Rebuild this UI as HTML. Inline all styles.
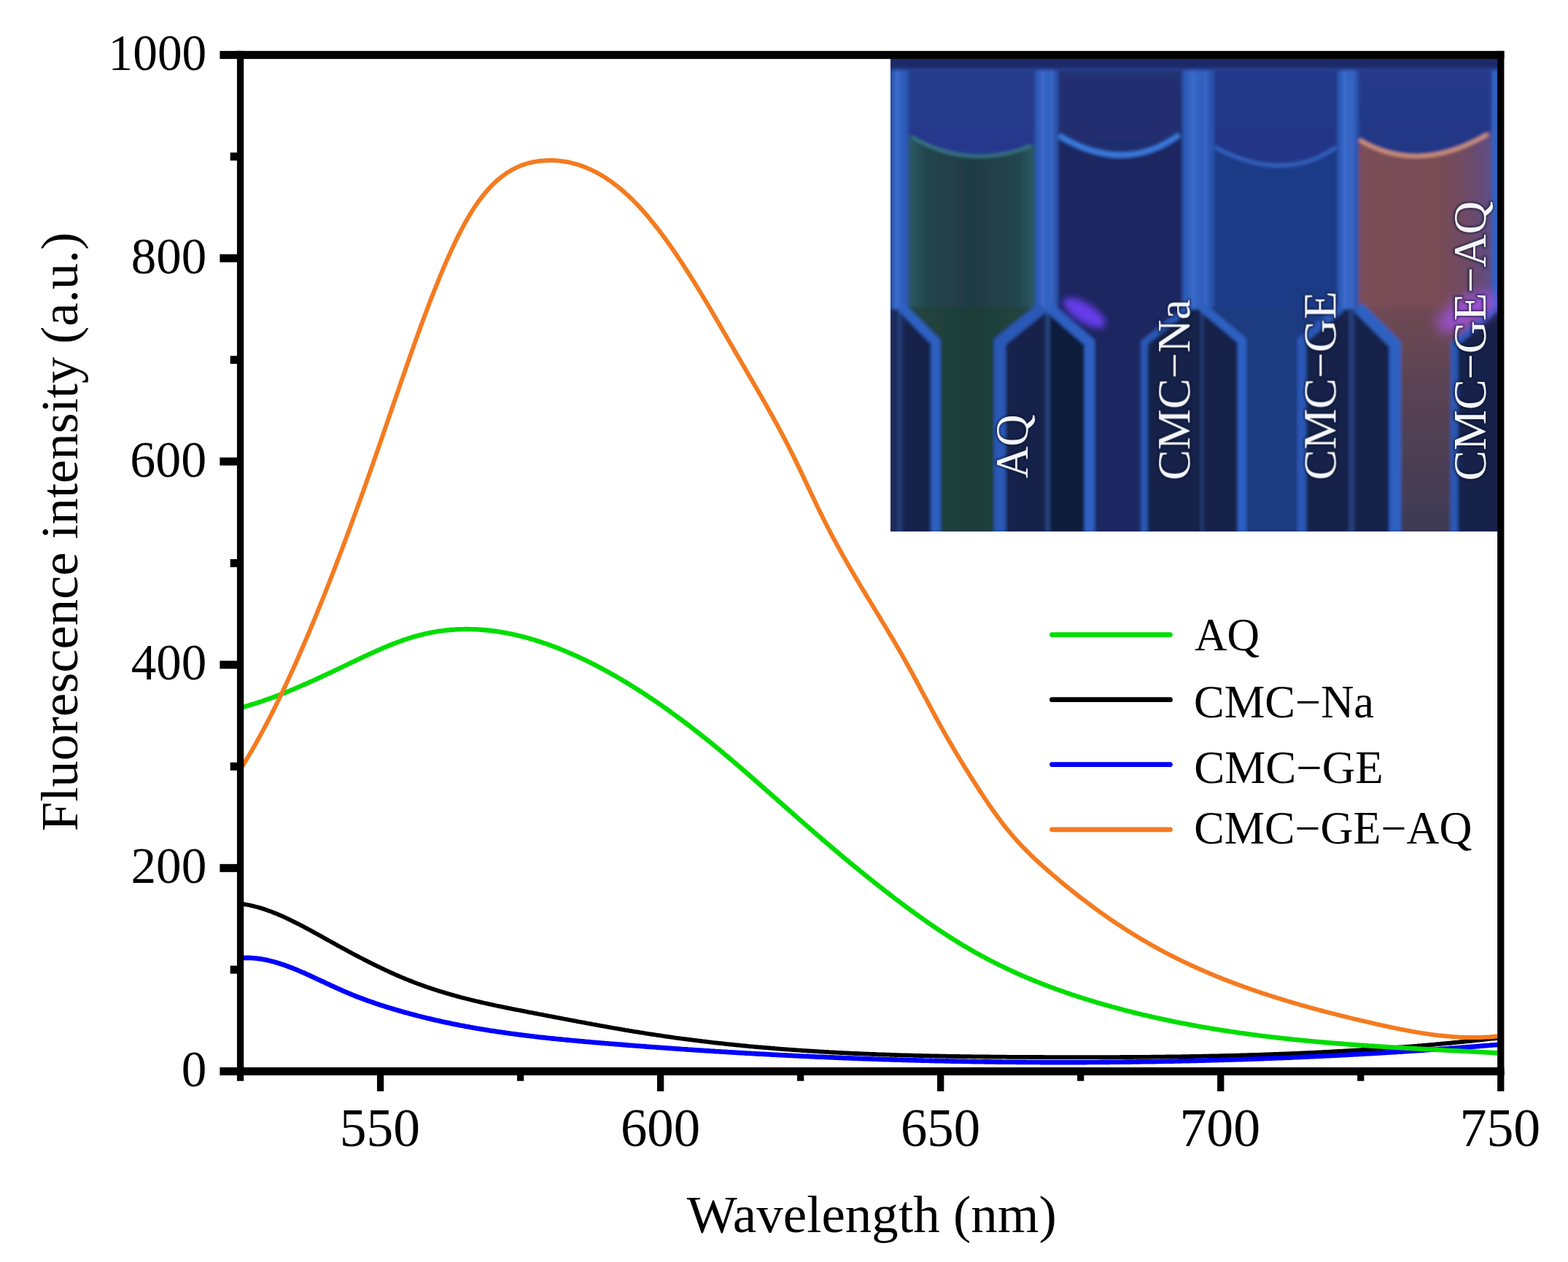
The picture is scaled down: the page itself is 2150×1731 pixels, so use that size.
<!DOCTYPE html><html><head><meta charset="utf-8"><title>Fluorescence spectra</title><style>html,body{margin:0;padding:0;background:#fff;overflow:hidden;}svg{display:block;}</style></head><body>
<svg xmlns="http://www.w3.org/2000/svg" width="2150" height="1731" viewBox="0 0 2150 1731">
<defs><clipPath id="insetclip"><rect x="1221" y="79.5" width="834" height="649.5"/></clipPath><clipPath id="plotclip"><rect x="329.6" y="75.35" width="1728.2000000000003" height="1394.15"/></clipPath></defs>
<rect width="2150" height="1731" fill="#fff"/>
<defs><filter id="blur2" x="-5%" y="-5%" width="110%" height="110%"><feGaussianBlur stdDeviation="2.2"/></filter><filter id="blur5" x="-30%" y="-30%" width="160%" height="160%"><feGaussianBlur stdDeviation="5"/></filter><filter id="blur9" x="-50%" y="-50%" width="200%" height="200%"><feGaussianBlur stdDeviation="9"/></filter><filter id="tshadow" x="-10%" y="-10%" width="120%" height="120%"><feGaussianBlur stdDeviation="1.6"/></filter><linearGradient id="c4liq" x1="0" y1="0" x2="1" y2="0"><stop offset="0" stop-color="#7a4e58"/><stop offset="0.6" stop-color="#784b55"/><stop offset="0.8" stop-color="#6e4c66"/><stop offset="1" stop-color="#5d4d86"/></linearGradient><linearGradient id="c4chan" x1="0" y1="0" x2="0" y2="1"><stop offset="0" stop-color="#704954"/><stop offset="0.35" stop-color="#5a4352"/><stop offset="1" stop-color="#3e3a55"/></linearGradient><linearGradient id="c1liq" x1="0" y1="0" x2="1" y2="0"><stop offset="0" stop-color="#2b5a66"/><stop offset="0.15" stop-color="#23464e"/><stop offset="0.5" stop-color="#1f3b43"/><stop offset="0.85" stop-color="#23464e"/><stop offset="1" stop-color="#2c5c68"/></linearGradient><linearGradient id="c1chan" x1="0" y1="0" x2="1" y2="0"><stop offset="0" stop-color="#22463f"/><stop offset="0.5" stop-color="#1e3d39"/><stop offset="1" stop-color="#22463f"/></linearGradient><linearGradient id="air1" x1="0" y1="0" x2="0" y2="1"><stop offset="0" stop-color="#273c8c"/><stop offset="0.6" stop-color="#23368a"/><stop offset="1" stop-color="#1c2d6a"/></linearGradient><linearGradient id="air2" x1="0" y1="0" x2="0" y2="1"><stop offset="0" stop-color="#213072"/><stop offset="0.7" stop-color="#1e2b6a"/><stop offset="1" stop-color="#1a2660"/></linearGradient><linearGradient id="air3" x1="0" y1="0" x2="0" y2="1"><stop offset="0" stop-color="#24388a"/><stop offset="0.55" stop-color="#213585"/><stop offset="0.85" stop-color="#1a2b6c"/><stop offset="1" stop-color="#1c2e72"/></linearGradient><linearGradient id="air4" x1="0" y1="0" x2="0" y2="1"><stop offset="0" stop-color="#25398a"/><stop offset="0.65" stop-color="#223583"/><stop offset="1" stop-color="#1b2b68"/></linearGradient><linearGradient id="wallL" x1="0" y1="0" x2="1" y2="0"><stop offset="0" stop-color="#2a55b0"/><stop offset="0.35" stop-color="#3667c8"/><stop offset="0.7" stop-color="#2f5ebd"/><stop offset="1" stop-color="#2850a8"/></linearGradient></defs>
<g clip-path="url(#insetclip)">
<rect x="1221" y="79.5" width="834" height="649.5" fill="#1d2b6a"/>
<g filter="url(#blur2)"><rect x="1244" y="94" width="178" height="335" fill="url(#air1)"/><path d="M1244,184 Q1330,236 1418,198 L1422,198 L1422,430 L1244,430 Z" fill="url(#c1liq)"/><path d="M1250,188 Q1330,234 1414,200" fill="none" stroke="#3d7f88" stroke-width="3.5"/><rect x="1450" y="94" width="174" height="335" fill="url(#air2)"/><path d="M1450,183 Q1541,244 1620,182 L1624,182 L1624,430 L1450,430 Z" fill="#1b2660"/><path d="M1452,186 Q1541,240 1617,185" fill="none" stroke="#3b7be0" stroke-width="7"/><rect x="1664" y="94" width="172" height="335" fill="url(#air3)"/><path d="M1664,200 Q1760,254 1836,198 L1836,430 L1664,430 Z" fill="#1f3a86"/><path d="M1666,202 Q1760,252 1832,202" fill="none" stroke="#3566c6" stroke-width="4.5"/><rect x="1862" y="94" width="186" height="335" fill="url(#air4)"/><path d="M1862,189 Q1945,244 2044,180 L2048,180 L2048,430 L1862,430 Z" fill="url(#c4liq)"/><path d="M1864,192 Q1945,240 2040,184" fill="none" stroke="#d9997c" stroke-width="4.5"/><rect x="1221" y="94" width="25" height="332" fill="url(#wallL)"/><rect x="1419" y="94" width="32" height="332" fill="url(#wallL)"/><rect x="1621" y="94" width="44" height="332" fill="url(#wallL)"/><rect x="1834" y="94" width="29" height="332" fill="url(#wallL)"/><rect x="2045" y="94" width="11" height="332" fill="url(#wallL)"/><rect x="1229" y="96" width="3" height="326" fill="#4a7ad6" opacity="0.55"/><rect x="1428" y="96" width="3" height="326" fill="#4a7ad6" opacity="0.55"/><rect x="1441" y="96" width="3" height="326" fill="#4a7ad6" opacity="0.55"/><rect x="1633" y="96" width="3" height="326" fill="#4a7ad6" opacity="0.55"/><rect x="1652" y="96" width="3" height="326" fill="#4a7ad6" opacity="0.55"/><rect x="1843" y="96" width="3" height="326" fill="#4a7ad6" opacity="0.55"/><rect x="1853" y="96" width="3" height="326" fill="#4a7ad6" opacity="0.55"/><rect x="1221" y="79.5" width="834" height="15" fill="#1d2b6b"/><rect x="1221" y="94" width="834" height="3" fill="#2b4396"/><rect x="1221" y="424" width="834" height="306" fill="#15204a"/><rect x="1436" y="424" width="52" height="306" fill="#111a3a"/><rect x="1221" y="424" width="20" height="306" fill="#1a2a5a"/><path d="M1236,421 L1283,469 L1283,730 L1371,730 L1371,469 L1430,421 Z" fill="url(#c1chan)"/><path d="M1236,421 L1283,469 L1283,730" fill="none" stroke="#2e60c2" stroke-width="13"/><path d="M1430,421 L1371,469 L1371,730" fill="none" stroke="#2a58b6" stroke-width="16"/><path d="M1438,421 L1494,470 L1494,730 L1569,730 L1569,470 L1630,421 Z" fill="#1b2760"/><path d="M1438,421 L1494,470 L1494,730" fill="none" stroke="#2e60c2" stroke-width="14"/><path d="M1630,421 L1569,470 L1569,730" fill="none" stroke="#2a58b6" stroke-width="9"/><path d="M1648,421 L1703,467 L1703,730 L1785,730 L1785,467 L1840,421 Z" fill="#1e3a80"/><path d="M1648,421 L1703,467 L1703,730" fill="none" stroke="#2e60c2" stroke-width="12"/><path d="M1840,421 L1785,467 L1785,730" fill="none" stroke="#2a58b6" stroke-width="12"/><path d="M1862,421 L1913,472 L1913,730 L1994,730 L1994,472 L2052,421 Z" fill="url(#c4chan)"/><path d="M1862,421 L1913,472 L1913,730" fill="none" stroke="#2e60c2" stroke-width="16"/><path d="M2052,421 L1994,472 L1994,730" fill="none" stroke="#2a58b6" stroke-width="10"/><rect x="1232" y="424" width="2.5" height="306" fill="#3a64bc" opacity="0.6"/><rect x="1434" y="424" width="2.5" height="306" fill="#3a64bc" opacity="0.6"/><rect x="1437" y="424" width="2.5" height="306" fill="#3a64bc" opacity="0.6"/><rect x="1647" y="424" width="2.5" height="306" fill="#3a64bc" opacity="0.6"/><rect x="1850" y="424" width="2.5" height="306" fill="#3a64bc" opacity="0.6"/><rect x="1854" y="424" width="2.5" height="306" fill="#3a64bc" opacity="0.6"/></g>
<ellipse cx="1487" cy="429" rx="33" ry="13" transform="rotate(32 1487 429)" fill="#6a3df2" opacity="0.95" filter="url(#blur5)"/>
<ellipse cx="2012" cy="428" rx="46" ry="19" transform="rotate(-28 2012 428)" fill="#a452e6" opacity="0.85" filter="url(#blur9)"/>
<g font-family="'Liberation Serif','Times New Roman',serif" fill="#0d1330" stroke="#0d1330" stroke-width="3" opacity="0.7" filter="url(#tshadow)">
<text transform="translate(1409.10,656.01) rotate(-90) scale(0.9690,1)" font-size="62.5">AQ</text>
<text transform="translate(1631.20,658.71) rotate(-90) scale(1.0047,1)" font-size="62.5">CMC&#8722;Na</text>
<text transform="translate(1831.40,658.52) rotate(-90) scale(1.0061,1)" font-size="62.5">CMC&#8722;GE</text>
<text transform="translate(2036.60,659.50) rotate(-90) scale(1.0014,1)" font-size="62.5">CMC&#8722;GE&#8722;AQ</text>
</g>
<g font-family="'Liberation Serif','Times New Roman',serif" fill="#f4f6fb">
<text transform="translate(1409.10,656.01) rotate(-90) scale(0.9690,1)" font-size="62.5">AQ</text>
<text transform="translate(1631.20,658.71) rotate(-90) scale(1.0047,1)" font-size="62.5">CMC&#8722;Na</text>
<text transform="translate(1831.40,658.52) rotate(-90) scale(1.0061,1)" font-size="62.5">CMC&#8722;GE</text>
<text transform="translate(2036.60,659.50) rotate(-90) scale(1.0014,1)" font-size="62.5">CMC&#8722;GE&#8722;AQ</text>
</g>
</g>
<g fill="none" stroke-linejoin="round" stroke-linecap="round" clip-path="url(#plotclip)">
<path d="M331.0,1239.7L333.0,1240.0L335.0,1240.3L337.0,1240.6L339.0,1241.0L341.0,1241.3L343.0,1241.8L345.0,1242.2L347.0,1242.7L349.0,1243.2L351.0,1243.7L353.0,1244.2L355.0,1244.8L357.0,1245.4L359.0,1246.0L361.0,1246.6L363.0,1247.3L365.0,1248.0L367.0,1248.7L369.0,1249.4L371.0,1250.1L373.0,1250.9L375.0,1251.7L377.0,1252.5L379.0,1253.3L381.0,1254.1L383.0,1255.0L385.0,1255.8L387.0,1256.7L389.0,1257.6L391.0,1258.5L393.0,1259.5L395.0,1260.4L397.0,1261.4L399.0,1262.3L401.0,1263.3L403.0,1264.3L405.0,1265.3L407.0,1266.3L409.0,1267.3L411.0,1268.4L413.0,1269.4L415.0,1270.4L417.0,1271.5L419.0,1272.6L421.0,1273.6L423.0,1274.7L425.0,1275.8L427.0,1276.9L429.0,1278.0L431.0,1279.1L433.0,1280.2L435.0,1281.3L437.0,1282.4L439.0,1283.5L441.0,1284.6L443.0,1285.7L445.0,1286.9L447.0,1288.0L449.0,1289.1L451.0,1290.2L453.0,1291.3L455.0,1292.4L457.0,1293.5L459.0,1294.6L461.0,1295.8L463.0,1296.9L465.0,1298.0L467.0,1299.0L469.0,1300.1L471.0,1301.2L473.0,1302.3L475.0,1303.4L477.0,1304.5L479.0,1305.6L481.0,1306.6L483.0,1307.7L485.0,1308.8L487.0,1309.8L489.0,1310.9L491.0,1311.9L493.0,1313.0L495.0,1314.0L497.0,1315.0L499.0,1316.1L501.0,1317.1L503.0,1318.1L505.0,1319.1L507.0,1320.1L509.0,1321.1L511.0,1322.1L513.0,1323.1L515.0,1324.1L517.0,1325.1L519.0,1326.0L521.0,1327.0L523.0,1328.0L525.0,1328.9L527.0,1329.9L529.0,1330.8L531.0,1331.7L533.0,1332.7L535.0,1333.6L537.0,1334.5L539.0,1335.4L541.0,1336.3L543.0,1337.2L545.0,1338.0L547.0,1338.9L549.0,1339.8L551.0,1340.6L553.0,1341.4L555.0,1342.3L557.0,1343.1L559.0,1343.9L561.0,1344.7L563.0,1345.5L565.0,1346.3L567.0,1347.1L569.0,1347.9L571.0,1348.6L573.0,1349.4L575.0,1350.1L577.0,1350.8L579.0,1351.6L581.0,1352.3L583.0,1353.0L585.0,1353.7L587.0,1354.4L589.0,1355.0L591.0,1355.7L593.0,1356.4L595.0,1357.0L597.0,1357.7L599.0,1358.3L601.0,1359.0L603.0,1359.6L605.0,1360.2L607.0,1360.8L609.0,1361.4L611.0,1362.0L613.0,1362.6L615.0,1363.2L617.0,1363.8L619.0,1364.4L621.0,1364.9L623.0,1365.5L625.0,1366.0L627.0,1366.6L629.0,1367.1L631.0,1367.7L633.0,1368.2L635.0,1368.7L637.0,1369.2L639.0,1369.7L641.0,1370.2L643.0,1370.7L645.0,1371.2L647.0,1371.7L649.0,1372.2L651.0,1372.7L653.0,1373.2L655.0,1373.7L657.0,1374.1L659.0,1374.6L661.0,1375.1L663.0,1375.5L665.0,1376.0L667.0,1376.4L669.0,1376.9L671.0,1377.3L673.0,1377.7L675.0,1378.2L677.0,1378.6L679.0,1379.0L681.0,1379.5L683.0,1379.9L685.0,1380.3L687.0,1380.7L689.0,1381.1L691.0,1381.5L693.0,1381.9L695.0,1382.4L697.0,1382.8L699.0,1383.2L701.0,1383.6L703.0,1384.0L705.0,1384.4L707.0,1384.8L709.0,1385.2L711.0,1385.5L713.0,1385.9L715.0,1386.3L717.0,1386.7L719.0,1387.1L721.0,1387.5L723.0,1387.9L725.0,1388.3L727.0,1388.6L729.0,1389.0L731.0,1389.4L733.0,1389.8L735.0,1390.2L737.0,1390.6L739.0,1391.0L741.0,1391.3L743.0,1391.7L745.0,1392.1L747.0,1392.5L749.0,1392.9L751.0,1393.3L753.0,1393.7L755.0,1394.0L757.0,1394.4L759.0,1394.8L761.0,1395.2L763.0,1395.6L765.0,1395.9L767.0,1396.3L769.0,1396.7L771.0,1397.1L773.0,1397.5L775.0,1397.9L777.0,1398.2L779.0,1398.6L781.0,1399.0L783.0,1399.4L785.0,1399.7L787.0,1400.1L789.0,1400.5L791.0,1400.9L793.0,1401.3L795.0,1401.6L797.0,1402.0L799.0,1402.4L801.0,1402.7L803.0,1403.1L805.0,1403.5L807.0,1403.9L809.0,1404.2L811.0,1404.6L813.0,1405.0L815.0,1405.3L817.0,1405.7L819.0,1406.1L821.0,1406.4L823.0,1406.8L825.0,1407.1L827.0,1407.5L829.0,1407.9L831.0,1408.2L833.0,1408.6L835.0,1408.9L837.0,1409.3L839.0,1409.6L841.0,1410.0L843.0,1410.3L845.0,1410.7L847.0,1411.0L849.0,1411.4L851.0,1411.7L853.0,1412.1L855.0,1412.4L857.0,1412.8L859.0,1413.1L861.0,1413.4L863.0,1413.8L865.0,1414.1L867.0,1414.4L869.0,1414.8L871.0,1415.1L873.0,1415.4L875.0,1415.7L877.0,1416.1L879.0,1416.4L881.0,1416.7L883.0,1417.0L885.0,1417.4L887.0,1417.7L889.0,1418.0L891.0,1418.3L893.0,1418.6L895.0,1418.9L897.0,1419.2L899.0,1419.5L901.0,1419.8L903.0,1420.1L905.0,1420.4L907.0,1420.7L909.0,1421.0L911.0,1421.3L913.0,1421.6L915.0,1421.9L917.0,1422.2L919.0,1422.5L921.0,1422.7L923.0,1423.0L925.0,1423.3L927.0,1423.6L929.0,1423.8L931.0,1424.1L933.0,1424.4L935.0,1424.7L937.0,1424.9L939.0,1425.2L941.0,1425.5L943.0,1425.7L945.0,1426.0L947.0,1426.2L949.0,1426.5L951.0,1426.7L953.0,1427.0L955.0,1427.2L957.0,1427.5L959.0,1427.7L961.0,1428.0L963.0,1428.2L965.0,1428.5L967.0,1428.7L969.0,1428.9L971.0,1429.2L973.0,1429.4L975.0,1429.6L977.0,1429.9L979.0,1430.1L981.0,1430.3L983.0,1430.5L985.0,1430.8L987.0,1431.0L989.0,1431.2L991.0,1431.4L993.0,1431.6L995.0,1431.9L997.0,1432.1L999.0,1432.3L1001.0,1432.5L1003.0,1432.7L1005.0,1432.9L1007.0,1433.1L1009.0,1433.3L1011.0,1433.5L1013.0,1433.7L1015.0,1433.9L1017.0,1434.1L1019.0,1434.3L1021.0,1434.5L1023.0,1434.7L1025.0,1434.9L1027.0,1435.1L1029.0,1435.3L1031.0,1435.4L1033.0,1435.6L1035.0,1435.8L1037.0,1436.0L1039.0,1436.2L1041.0,1436.3L1043.0,1436.5L1045.0,1436.7L1047.0,1436.9L1049.0,1437.0L1051.0,1437.2L1053.0,1437.4L1055.0,1437.5L1057.0,1437.7L1059.0,1437.9L1061.0,1438.0L1063.0,1438.2L1065.0,1438.3L1067.0,1438.5L1069.0,1438.7L1071.0,1438.8L1073.0,1439.0L1075.0,1439.1L1077.0,1439.3L1079.0,1439.4L1081.0,1439.6L1083.0,1439.7L1085.0,1439.9L1087.0,1440.0L1089.0,1440.1L1091.0,1440.3L1093.0,1440.4L1095.0,1440.6L1097.0,1440.7L1099.0,1440.8L1101.0,1441.0L1103.0,1441.1L1105.0,1441.2L1107.0,1441.4L1109.0,1441.5L1111.0,1441.6L1113.0,1441.7L1115.0,1441.9L1117.0,1442.0L1119.0,1442.1L1121.0,1442.2L1123.0,1442.4L1125.0,1442.5L1127.0,1442.6L1129.0,1442.7L1131.0,1442.8L1133.0,1442.9L1135.0,1443.0L1137.0,1443.2L1139.0,1443.3L1141.0,1443.4L1143.0,1443.5L1145.0,1443.6L1147.0,1443.7L1149.0,1443.8L1151.0,1443.9L1153.0,1444.0L1155.0,1444.1L1157.0,1444.2L1159.0,1444.3L1161.0,1444.4L1163.0,1444.5L1165.0,1444.6L1167.0,1444.7L1169.0,1444.8L1171.0,1444.9L1173.0,1445.0L1175.0,1445.0L1177.0,1445.1L1179.0,1445.2L1181.0,1445.3L1183.0,1445.4L1185.0,1445.5L1187.0,1445.6L1189.0,1445.6L1191.0,1445.7L1193.0,1445.8L1195.0,1445.9L1197.0,1446.0L1199.0,1446.0L1201.0,1446.1L1203.0,1446.2L1205.0,1446.3L1207.0,1446.3L1209.0,1446.4L1211.0,1446.5L1213.0,1446.5L1215.0,1446.6L1217.0,1446.7L1219.0,1446.7L1221.0,1446.8L1223.0,1446.9L1225.0,1446.9L1227.0,1447.0L1229.0,1447.1L1231.0,1447.1L1233.0,1447.2L1235.0,1447.3L1237.0,1447.3L1239.0,1447.4L1241.0,1447.4L1243.0,1447.5L1245.0,1447.5L1247.0,1447.6L1249.0,1447.6L1251.0,1447.7L1253.0,1447.8L1255.0,1447.8L1257.0,1447.9L1259.0,1447.9L1261.0,1448.0L1263.0,1448.0L1265.0,1448.1L1267.0,1448.1L1269.0,1448.1L1271.0,1448.2L1273.0,1448.2L1275.0,1448.3L1277.0,1448.3L1279.0,1448.4L1281.0,1448.4L1283.0,1448.5L1285.0,1448.5L1287.0,1448.5L1289.0,1448.6L1291.0,1448.6L1293.0,1448.6L1295.0,1448.7L1297.0,1448.7L1299.0,1448.8L1301.0,1448.8L1303.0,1448.8L1305.0,1448.9L1307.0,1448.9L1309.0,1448.9L1311.0,1449.0L1313.0,1449.0L1315.0,1449.0L1317.0,1449.1L1319.0,1449.1L1321.0,1449.1L1323.0,1449.1L1325.0,1449.2L1327.0,1449.2L1329.0,1449.2L1331.0,1449.2L1333.0,1449.3L1335.0,1449.3L1337.0,1449.3L1339.0,1449.4L1341.0,1449.4L1343.0,1449.4L1345.0,1449.4L1347.0,1449.4L1349.0,1449.5L1351.0,1449.5L1353.0,1449.5L1355.0,1449.5L1357.0,1449.5L1359.0,1449.6L1361.0,1449.6L1363.0,1449.6L1365.0,1449.6L1367.0,1449.6L1369.0,1449.7L1371.0,1449.7L1373.0,1449.7L1375.0,1449.7L1377.0,1449.7L1379.0,1449.7L1381.0,1449.8L1383.0,1449.8L1385.0,1449.8L1387.0,1449.8L1389.0,1449.8L1391.0,1449.8L1393.0,1449.8L1395.0,1449.9L1397.0,1449.9L1399.0,1449.9L1401.0,1449.9L1403.0,1449.9L1405.0,1449.9L1407.0,1449.9L1409.0,1449.9L1411.0,1450.0L1413.0,1450.0L1415.0,1450.0L1417.0,1450.0L1419.0,1450.0L1421.0,1450.0L1423.0,1450.0L1425.0,1450.0L1427.0,1450.0L1429.0,1450.0L1431.0,1450.0L1433.0,1450.1L1435.0,1450.1L1437.0,1450.1L1439.0,1450.1L1441.0,1450.1L1443.0,1450.1L1445.0,1450.1L1447.0,1450.1L1449.0,1450.1L1451.0,1450.1L1453.0,1450.1L1455.0,1450.1L1457.0,1450.1L1459.0,1450.1L1461.0,1450.1L1463.0,1450.1L1465.0,1450.1L1467.0,1450.2L1469.0,1450.2L1471.0,1450.2L1473.0,1450.2L1475.0,1450.2L1477.0,1450.2L1479.0,1450.2L1481.0,1450.2L1483.0,1450.2L1485.0,1450.2L1487.0,1450.2L1489.0,1450.2L1491.0,1450.2L1493.0,1450.2L1495.0,1450.2L1497.0,1450.2L1499.0,1450.2L1501.0,1450.2L1503.0,1450.2L1505.0,1450.2L1507.0,1450.1L1509.0,1450.1L1511.0,1450.1L1513.0,1450.1L1515.0,1450.1L1517.0,1450.1L1519.0,1450.1L1521.0,1450.1L1523.0,1450.1L1525.0,1450.1L1527.0,1450.1L1529.0,1450.1L1531.0,1450.1L1533.0,1450.1L1535.0,1450.1L1537.0,1450.0L1539.0,1450.0L1541.0,1450.0L1543.0,1450.0L1545.0,1450.0L1547.0,1450.0L1549.0,1450.0L1551.0,1450.0L1553.0,1450.0L1555.0,1449.9L1557.0,1449.9L1559.0,1449.9L1561.0,1449.9L1563.0,1449.9L1565.0,1449.9L1567.0,1449.9L1569.0,1449.8L1571.0,1449.8L1573.0,1449.8L1575.0,1449.8L1577.0,1449.8L1579.0,1449.7L1581.0,1449.7L1583.0,1449.7L1585.0,1449.7L1587.0,1449.7L1589.0,1449.6L1591.0,1449.6L1593.0,1449.6L1595.0,1449.6L1597.0,1449.6L1599.0,1449.5L1601.0,1449.5L1603.0,1449.5L1605.0,1449.5L1607.0,1449.4L1609.0,1449.4L1611.0,1449.4L1613.0,1449.3L1615.0,1449.3L1617.0,1449.3L1619.0,1449.3L1621.0,1449.2L1623.0,1449.2L1625.0,1449.2L1627.0,1449.1L1629.0,1449.1L1631.0,1449.1L1633.0,1449.0L1635.0,1449.0L1637.0,1449.0L1639.0,1448.9L1641.0,1448.9L1643.0,1448.9L1645.0,1448.8L1647.0,1448.8L1649.0,1448.7L1651.0,1448.7L1653.0,1448.7L1655.0,1448.6L1657.0,1448.6L1659.0,1448.5L1661.0,1448.5L1663.0,1448.5L1665.0,1448.4L1667.0,1448.4L1669.0,1448.3L1671.0,1448.3L1673.0,1448.2L1675.0,1448.2L1677.0,1448.1L1679.0,1448.1L1681.0,1448.0L1683.0,1448.0L1685.0,1447.9L1687.0,1447.9L1689.0,1447.8L1691.0,1447.8L1693.0,1447.7L1695.0,1447.7L1697.0,1447.6L1699.0,1447.6L1701.0,1447.5L1703.0,1447.5L1705.0,1447.4L1707.0,1447.3L1709.0,1447.3L1711.0,1447.2L1713.0,1447.2L1715.0,1447.1L1717.0,1447.0L1719.0,1447.0L1721.0,1446.9L1723.0,1446.9L1725.0,1446.8L1727.0,1446.7L1729.0,1446.7L1731.0,1446.6L1733.0,1446.5L1735.0,1446.5L1737.0,1446.4L1739.0,1446.3L1741.0,1446.2L1743.0,1446.2L1745.0,1446.1L1747.0,1446.0L1749.0,1446.0L1751.0,1445.9L1753.0,1445.8L1755.0,1445.7L1757.0,1445.7L1759.0,1445.6L1761.0,1445.5L1763.0,1445.4L1765.0,1445.3L1767.0,1445.3L1769.0,1445.2L1771.0,1445.1L1773.0,1445.0L1775.0,1444.9L1777.0,1444.9L1779.0,1444.8L1781.0,1444.7L1783.0,1444.6L1785.0,1444.5L1787.0,1444.4L1789.0,1444.3L1791.0,1444.2L1793.0,1444.1L1795.0,1444.1L1797.0,1444.0L1799.0,1443.9L1801.0,1443.8L1803.0,1443.7L1805.0,1443.6L1807.0,1443.5L1809.0,1443.4L1811.0,1443.3L1813.0,1443.2L1815.0,1443.1L1817.0,1443.0L1819.0,1442.9L1821.0,1442.8L1823.0,1442.7L1825.0,1442.6L1827.0,1442.5L1829.0,1442.4L1831.0,1442.2L1833.0,1442.1L1835.0,1442.0L1837.0,1441.9L1839.0,1441.8L1841.0,1441.7L1843.0,1441.6L1845.0,1441.5L1847.0,1441.4L1849.0,1441.2L1851.0,1441.1L1853.0,1441.0L1855.0,1440.9L1857.0,1440.8L1859.0,1440.6L1861.0,1440.5L1863.0,1440.4L1865.0,1440.3L1867.0,1440.1L1869.0,1440.0L1871.0,1439.9L1873.0,1439.8L1875.0,1439.6L1877.0,1439.5L1879.0,1439.4L1881.0,1439.2L1883.0,1439.1L1885.0,1439.0L1887.0,1438.8L1889.0,1438.7L1891.0,1438.6L1893.0,1438.4L1895.0,1438.3L1897.0,1438.2L1899.0,1438.0L1901.0,1437.9L1903.0,1437.7L1905.0,1437.6L1907.0,1437.4L1909.0,1437.3L1911.0,1437.1L1913.0,1437.0L1915.0,1436.9L1917.0,1436.7L1919.0,1436.5L1921.0,1436.4L1923.0,1436.2L1925.0,1436.1L1927.0,1435.9L1929.0,1435.8L1931.0,1435.6L1933.0,1435.5L1935.0,1435.3L1937.0,1435.1L1939.0,1435.0L1941.0,1434.8L1943.0,1434.7L1945.0,1434.5L1947.0,1434.3L1949.0,1434.2L1951.0,1434.0L1953.0,1433.8L1955.0,1433.6L1957.0,1433.5L1959.0,1433.3L1961.0,1433.1L1963.0,1432.9L1965.0,1432.8L1967.0,1432.6L1969.0,1432.4L1971.0,1432.2L1973.0,1432.1L1975.0,1431.9L1977.0,1431.7L1979.0,1431.5L1981.0,1431.3L1983.0,1431.1L1985.0,1430.9L1987.0,1430.8L1989.0,1430.6L1991.0,1430.4L1993.0,1430.2L1995.0,1430.0L1997.0,1429.8L1999.0,1429.6L2001.0,1429.4L2003.0,1429.2L2005.0,1429.0L2007.0,1428.8L2009.0,1428.6L2011.0,1428.4L2013.0,1428.2L2015.0,1428.0L2017.0,1427.8L2019.0,1427.6L2021.0,1427.4L2023.0,1427.1L2025.0,1426.9L2027.0,1426.7L2029.0,1426.5L2031.0,1426.3L2033.0,1426.1L2035.0,1425.9L2037.0,1425.6L2039.0,1425.4L2041.0,1425.2L2043.0,1425.0L2045.0,1424.7L2047.0,1424.5L2049.0,1424.3L2051.0,1424.1L2053.0,1423.8L2055.0,1423.6" stroke="#000000" stroke-width="5.8"/>
<path d="M331.0,1314.2L333.0,1314.0L335.0,1313.9L337.0,1313.9L339.0,1313.9L341.0,1313.9L343.0,1313.9L345.0,1314.0L347.0,1314.2L349.0,1314.3L351.0,1314.5L353.0,1314.7L355.0,1315.0L357.0,1315.3L359.0,1315.6L361.0,1315.9L363.0,1316.3L365.0,1316.7L367.0,1317.1L369.0,1317.6L371.0,1318.1L373.0,1318.6L375.0,1319.1L377.0,1319.7L379.0,1320.2L381.0,1320.8L383.0,1321.5L385.0,1322.1L387.0,1322.8L389.0,1323.4L391.0,1324.1L393.0,1324.9L395.0,1325.6L397.0,1326.4L399.0,1327.1L401.0,1327.9L403.0,1328.7L405.0,1329.5L407.0,1330.3L409.0,1331.2L411.0,1332.0L413.0,1332.9L415.0,1333.8L417.0,1334.6L419.0,1335.5L421.0,1336.4L423.0,1337.3L425.0,1338.2L427.0,1339.2L429.0,1340.1L431.0,1341.0L433.0,1341.9L435.0,1342.9L437.0,1343.8L439.0,1344.7L441.0,1345.7L443.0,1346.6L445.0,1347.5L447.0,1348.5L449.0,1349.4L451.0,1350.3L453.0,1351.3L455.0,1352.2L457.0,1353.1L459.0,1354.0L461.0,1354.9L463.0,1355.8L465.0,1356.7L467.0,1357.6L469.0,1358.5L471.0,1359.4L473.0,1360.3L475.0,1361.1L477.0,1362.0L479.0,1362.8L481.0,1363.6L483.0,1364.5L485.0,1365.3L487.0,1366.1L489.0,1366.9L491.0,1367.7L493.0,1368.4L495.0,1369.2L497.0,1369.9L499.0,1370.7L501.0,1371.4L503.0,1372.1L505.0,1372.8L507.0,1373.5L509.0,1374.2L511.0,1374.9L513.0,1375.6L515.0,1376.3L517.0,1377.0L519.0,1377.6L521.0,1378.3L523.0,1378.9L525.0,1379.6L527.0,1380.2L529.0,1380.8L531.0,1381.5L533.0,1382.1L535.0,1382.7L537.0,1383.3L539.0,1383.9L541.0,1384.5L543.0,1385.1L545.0,1385.7L547.0,1386.3L549.0,1386.8L551.0,1387.4L553.0,1388.0L555.0,1388.5L557.0,1389.1L559.0,1389.6L561.0,1390.2L563.0,1390.7L565.0,1391.3L567.0,1391.8L569.0,1392.3L571.0,1392.8L573.0,1393.4L575.0,1393.9L577.0,1394.4L579.0,1394.9L581.0,1395.4L583.0,1395.9L585.0,1396.4L587.0,1396.8L589.0,1397.3L591.0,1397.8L593.0,1398.3L595.0,1398.7L597.0,1399.2L599.0,1399.6L601.0,1400.1L603.0,1400.5L605.0,1401.0L607.0,1401.4L609.0,1401.9L611.0,1402.3L613.0,1402.7L615.0,1403.1L617.0,1403.5L619.0,1404.0L621.0,1404.4L623.0,1404.8L625.0,1405.2L627.0,1405.6L629.0,1406.0L631.0,1406.4L633.0,1406.7L635.0,1407.1L637.0,1407.5L639.0,1407.9L641.0,1408.2L643.0,1408.6L645.0,1409.0L647.0,1409.3L649.0,1409.7L651.0,1410.0L653.0,1410.4L655.0,1410.7L657.0,1411.1L659.0,1411.4L661.0,1411.7L663.0,1412.1L665.0,1412.4L667.0,1412.7L669.0,1413.0L671.0,1413.4L673.0,1413.7L675.0,1414.0L677.0,1414.3L679.0,1414.6L681.0,1414.9L683.0,1415.2L685.0,1415.5L687.0,1415.8L689.0,1416.1L691.0,1416.4L693.0,1416.6L695.0,1416.9L697.0,1417.2L699.0,1417.5L701.0,1417.8L703.0,1418.0L705.0,1418.3L707.0,1418.6L709.0,1418.8L711.0,1419.1L713.0,1419.3L715.0,1419.6L717.0,1419.8L719.0,1420.1L721.0,1420.3L723.0,1420.6L725.0,1420.8L727.0,1421.1L729.0,1421.3L731.0,1421.5L733.0,1421.8L735.0,1422.0L737.0,1422.2L739.0,1422.5L741.0,1422.7L743.0,1422.9L745.0,1423.1L747.0,1423.3L749.0,1423.6L751.0,1423.8L753.0,1424.0L755.0,1424.2L757.0,1424.4L759.0,1424.6L761.0,1424.8L763.0,1425.0L765.0,1425.2L767.0,1425.4L769.0,1425.6L771.0,1425.8L773.0,1426.0L775.0,1426.2L777.0,1426.4L779.0,1426.6L781.0,1426.8L783.0,1427.0L785.0,1427.2L787.0,1427.3L789.0,1427.5L791.0,1427.7L793.0,1427.9L795.0,1428.1L797.0,1428.3L799.0,1428.4L801.0,1428.6L803.0,1428.8L805.0,1429.0L807.0,1429.1L809.0,1429.3L811.0,1429.5L813.0,1429.7L815.0,1429.8L817.0,1430.0L819.0,1430.2L821.0,1430.3L823.0,1430.5L825.0,1430.7L827.0,1430.8L829.0,1431.0L831.0,1431.2L833.0,1431.3L835.0,1431.5L837.0,1431.7L839.0,1431.8L841.0,1432.0L843.0,1432.1L845.0,1432.3L847.0,1432.5L849.0,1432.6L851.0,1432.8L853.0,1432.9L855.0,1433.1L857.0,1433.3L859.0,1433.4L861.0,1433.6L863.0,1433.7L865.0,1433.9L867.0,1434.0L869.0,1434.2L871.0,1434.4L873.0,1434.5L875.0,1434.7L877.0,1434.8L879.0,1435.0L881.0,1435.1L883.0,1435.3L885.0,1435.4L887.0,1435.6L889.0,1435.7L891.0,1435.9L893.0,1436.0L895.0,1436.2L897.0,1436.3L899.0,1436.5L901.0,1436.6L903.0,1436.8L905.0,1436.9L907.0,1437.0L909.0,1437.2L911.0,1437.3L913.0,1437.5L915.0,1437.6L917.0,1437.8L919.0,1437.9L921.0,1438.0L923.0,1438.2L925.0,1438.3L927.0,1438.5L929.0,1438.6L931.0,1438.7L933.0,1438.9L935.0,1439.0L937.0,1439.2L939.0,1439.3L941.0,1439.4L943.0,1439.6L945.0,1439.7L947.0,1439.8L949.0,1440.0L951.0,1440.1L953.0,1440.2L955.0,1440.4L957.0,1440.5L959.0,1440.6L961.0,1440.8L963.0,1440.9L965.0,1441.0L967.0,1441.2L969.0,1441.3L971.0,1441.4L973.0,1441.5L975.0,1441.7L977.0,1441.8L979.0,1441.9L981.0,1442.1L983.0,1442.2L985.0,1442.3L987.0,1442.4L989.0,1442.5L991.0,1442.7L993.0,1442.8L995.0,1442.9L997.0,1443.0L999.0,1443.2L1001.0,1443.3L1003.0,1443.4L1005.0,1443.5L1007.0,1443.6L1009.0,1443.8L1011.0,1443.9L1013.0,1444.0L1015.0,1444.1L1017.0,1444.2L1019.0,1444.3L1021.0,1444.5L1023.0,1444.6L1025.0,1444.7L1027.0,1444.8L1029.0,1444.9L1031.0,1445.0L1033.0,1445.1L1035.0,1445.3L1037.0,1445.4L1039.0,1445.5L1041.0,1445.6L1043.0,1445.7L1045.0,1445.8L1047.0,1445.9L1049.0,1446.0L1051.0,1446.1L1053.0,1446.2L1055.0,1446.3L1057.0,1446.5L1059.0,1446.6L1061.0,1446.7L1063.0,1446.8L1065.0,1446.9L1067.0,1447.0L1069.0,1447.1L1071.0,1447.2L1073.0,1447.3L1075.0,1447.4L1077.0,1447.5L1079.0,1447.6L1081.0,1447.7L1083.0,1447.8L1085.0,1447.9L1087.0,1448.0L1089.0,1448.1L1091.0,1448.2L1093.0,1448.3L1095.0,1448.4L1097.0,1448.5L1099.0,1448.6L1101.0,1448.7L1103.0,1448.8L1105.0,1448.8L1107.0,1448.9L1109.0,1449.0L1111.0,1449.1L1113.0,1449.2L1115.0,1449.3L1117.0,1449.4L1119.0,1449.5L1121.0,1449.6L1123.0,1449.7L1125.0,1449.8L1127.0,1449.8L1129.0,1449.9L1131.0,1450.0L1133.0,1450.1L1135.0,1450.2L1137.0,1450.3L1139.0,1450.4L1141.0,1450.4L1143.0,1450.5L1145.0,1450.6L1147.0,1450.7L1149.0,1450.8L1151.0,1450.9L1153.0,1450.9L1155.0,1451.0L1157.0,1451.1L1159.0,1451.2L1161.0,1451.3L1163.0,1451.3L1165.0,1451.4L1167.0,1451.5L1169.0,1451.6L1171.0,1451.6L1173.0,1451.7L1175.0,1451.8L1177.0,1451.9L1179.0,1451.9L1181.0,1452.0L1183.0,1452.1L1185.0,1452.2L1187.0,1452.2L1189.0,1452.3L1191.0,1452.4L1193.0,1452.5L1195.0,1452.5L1197.0,1452.6L1199.0,1452.7L1201.0,1452.7L1203.0,1452.8L1205.0,1452.9L1207.0,1452.9L1209.0,1453.0L1211.0,1453.1L1213.0,1453.1L1215.0,1453.2L1217.0,1453.3L1219.0,1453.3L1221.0,1453.4L1223.0,1453.4L1225.0,1453.5L1227.0,1453.6L1229.0,1453.6L1231.0,1453.7L1233.0,1453.8L1235.0,1453.8L1237.0,1453.9L1239.0,1453.9L1241.0,1454.0L1243.0,1454.0L1245.0,1454.1L1247.0,1454.2L1249.0,1454.2L1251.0,1454.3L1253.0,1454.3L1255.0,1454.4L1257.0,1454.4L1259.0,1454.5L1261.0,1454.5L1263.0,1454.6L1265.0,1454.6L1267.0,1454.7L1269.0,1454.7L1271.0,1454.8L1273.0,1454.8L1275.0,1454.9L1277.0,1454.9L1279.0,1455.0L1281.0,1455.0L1283.0,1455.1L1285.0,1455.1L1287.0,1455.2L1289.0,1455.2L1291.0,1455.3L1293.0,1455.3L1295.0,1455.4L1297.0,1455.4L1299.0,1455.4L1301.0,1455.5L1303.0,1455.5L1305.0,1455.6L1307.0,1455.6L1309.0,1455.6L1311.0,1455.7L1313.0,1455.7L1315.0,1455.8L1317.0,1455.8L1319.0,1455.8L1321.0,1455.9L1323.0,1455.9L1325.0,1455.9L1327.0,1456.0L1329.0,1456.0L1331.0,1456.0L1333.0,1456.1L1335.0,1456.1L1337.0,1456.1L1339.0,1456.2L1341.0,1456.2L1343.0,1456.2L1345.0,1456.3L1347.0,1456.3L1349.0,1456.3L1351.0,1456.4L1353.0,1456.4L1355.0,1456.4L1357.0,1456.4L1359.0,1456.5L1361.0,1456.5L1363.0,1456.5L1365.0,1456.5L1367.0,1456.6L1369.0,1456.6L1371.0,1456.6L1373.0,1456.6L1375.0,1456.7L1377.0,1456.7L1379.0,1456.7L1381.0,1456.7L1383.0,1456.7L1385.0,1456.8L1387.0,1456.8L1389.0,1456.8L1391.0,1456.8L1393.0,1456.8L1395.0,1456.9L1397.0,1456.9L1399.0,1456.9L1401.0,1456.9L1403.0,1456.9L1405.0,1456.9L1407.0,1456.9L1409.0,1457.0L1411.0,1457.0L1413.0,1457.0L1415.0,1457.0L1417.0,1457.0L1419.0,1457.0L1421.0,1457.0L1423.0,1457.0L1425.0,1457.0L1427.0,1457.1L1429.0,1457.1L1431.0,1457.1L1433.0,1457.1L1435.0,1457.1L1437.0,1457.1L1439.0,1457.1L1441.0,1457.1L1443.0,1457.1L1445.0,1457.1L1447.0,1457.1L1449.0,1457.1L1451.0,1457.1L1453.0,1457.1L1455.0,1457.1L1457.0,1457.1L1459.0,1457.1L1461.0,1457.1L1463.0,1457.1L1465.0,1457.1L1467.0,1457.1L1469.0,1457.1L1471.0,1457.1L1473.0,1457.1L1475.0,1457.1L1477.0,1457.1L1479.0,1457.1L1481.0,1457.1L1483.0,1457.1L1485.0,1457.1L1487.0,1457.1L1489.0,1457.1L1491.0,1457.0L1493.0,1457.0L1495.0,1457.0L1497.0,1457.0L1499.0,1457.0L1501.0,1457.0L1503.0,1457.0L1505.0,1457.0L1507.0,1457.0L1509.0,1456.9L1511.0,1456.9L1513.0,1456.9L1515.0,1456.9L1517.0,1456.9L1519.0,1456.9L1521.0,1456.9L1523.0,1456.8L1525.0,1456.8L1527.0,1456.8L1529.0,1456.8L1531.0,1456.8L1533.0,1456.7L1535.0,1456.7L1537.0,1456.7L1539.0,1456.7L1541.0,1456.7L1543.0,1456.6L1545.0,1456.6L1547.0,1456.6L1549.0,1456.6L1551.0,1456.5L1553.0,1456.5L1555.0,1456.5L1557.0,1456.5L1559.0,1456.4L1561.0,1456.4L1563.0,1456.4L1565.0,1456.3L1567.0,1456.3L1569.0,1456.3L1571.0,1456.3L1573.0,1456.2L1575.0,1456.2L1577.0,1456.2L1579.0,1456.1L1581.0,1456.1L1583.0,1456.1L1585.0,1456.0L1587.0,1456.0L1589.0,1456.0L1591.0,1455.9L1593.0,1455.9L1595.0,1455.8L1597.0,1455.8L1599.0,1455.8L1601.0,1455.7L1603.0,1455.7L1605.0,1455.7L1607.0,1455.6L1609.0,1455.6L1611.0,1455.5L1613.0,1455.5L1615.0,1455.5L1617.0,1455.4L1619.0,1455.4L1621.0,1455.3L1623.0,1455.3L1625.0,1455.2L1627.0,1455.2L1629.0,1455.1L1631.0,1455.1L1633.0,1455.0L1635.0,1455.0L1637.0,1455.0L1639.0,1454.9L1641.0,1454.9L1643.0,1454.8L1645.0,1454.8L1647.0,1454.7L1649.0,1454.7L1651.0,1454.6L1653.0,1454.5L1655.0,1454.5L1657.0,1454.4L1659.0,1454.4L1661.0,1454.3L1663.0,1454.3L1665.0,1454.2L1667.0,1454.2L1669.0,1454.1L1671.0,1454.0L1673.0,1454.0L1675.0,1453.9L1677.0,1453.9L1679.0,1453.8L1681.0,1453.8L1683.0,1453.7L1685.0,1453.6L1687.0,1453.6L1689.0,1453.5L1691.0,1453.4L1693.0,1453.4L1695.0,1453.3L1697.0,1453.3L1699.0,1453.2L1701.0,1453.1L1703.0,1453.1L1705.0,1453.0L1707.0,1452.9L1709.0,1452.9L1711.0,1452.8L1713.0,1452.7L1715.0,1452.6L1717.0,1452.6L1719.0,1452.5L1721.0,1452.4L1723.0,1452.4L1725.0,1452.3L1727.0,1452.2L1729.0,1452.1L1731.0,1452.1L1733.0,1452.0L1735.0,1451.9L1737.0,1451.8L1739.0,1451.8L1741.0,1451.7L1743.0,1451.6L1745.0,1451.5L1747.0,1451.5L1749.0,1451.4L1751.0,1451.3L1753.0,1451.2L1755.0,1451.1L1757.0,1451.1L1759.0,1451.0L1761.0,1450.9L1763.0,1450.8L1765.0,1450.7L1767.0,1450.6L1769.0,1450.6L1771.0,1450.5L1773.0,1450.4L1775.0,1450.3L1777.0,1450.2L1779.0,1450.1L1781.0,1450.0L1783.0,1450.0L1785.0,1449.9L1787.0,1449.8L1789.0,1449.7L1791.0,1449.6L1793.0,1449.5L1795.0,1449.4L1797.0,1449.3L1799.0,1449.2L1801.0,1449.1L1803.0,1449.0L1805.0,1449.0L1807.0,1448.9L1809.0,1448.8L1811.0,1448.7L1813.0,1448.6L1815.0,1448.5L1817.0,1448.4L1819.0,1448.3L1821.0,1448.2L1823.0,1448.1L1825.0,1448.0L1827.0,1447.9L1829.0,1447.8L1831.0,1447.7L1833.0,1447.6L1835.0,1447.5L1837.0,1447.4L1839.0,1447.3L1841.0,1447.2L1843.0,1447.1L1845.0,1447.0L1847.0,1446.9L1849.0,1446.7L1851.0,1446.6L1853.0,1446.5L1855.0,1446.4L1857.0,1446.3L1859.0,1446.2L1861.0,1446.1L1863.0,1446.0L1865.0,1445.9L1867.0,1445.8L1869.0,1445.7L1871.0,1445.5L1873.0,1445.4L1875.0,1445.3L1877.0,1445.2L1879.0,1445.1L1881.0,1445.0L1883.0,1444.9L1885.0,1444.7L1887.0,1444.6L1889.0,1444.5L1891.0,1444.4L1893.0,1444.3L1895.0,1444.1L1897.0,1444.0L1899.0,1443.9L1901.0,1443.8L1903.0,1443.7L1905.0,1443.5L1907.0,1443.4L1909.0,1443.3L1911.0,1443.2L1913.0,1443.1L1915.0,1442.9L1917.0,1442.8L1919.0,1442.7L1921.0,1442.6L1923.0,1442.4L1925.0,1442.3L1927.0,1442.2L1929.0,1442.0L1931.0,1441.9L1933.0,1441.8L1935.0,1441.7L1937.0,1441.5L1939.0,1441.4L1941.0,1441.3L1943.0,1441.1L1945.0,1441.0L1947.0,1440.9L1949.0,1440.7L1951.0,1440.6L1953.0,1440.5L1955.0,1440.3L1957.0,1440.2L1959.0,1440.0L1961.0,1439.9L1963.0,1439.8L1965.0,1439.6L1967.0,1439.5L1969.0,1439.4L1971.0,1439.2L1973.0,1439.1L1975.0,1438.9L1977.0,1438.8L1979.0,1438.7L1981.0,1438.5L1983.0,1438.4L1985.0,1438.2L1987.0,1438.1L1989.0,1437.9L1991.0,1437.8L1993.0,1437.6L1995.0,1437.5L1997.0,1437.3L1999.0,1437.2L2001.0,1437.1L2003.0,1436.9L2005.0,1436.8L2007.0,1436.6L2009.0,1436.5L2011.0,1436.3L2013.0,1436.1L2015.0,1436.0L2017.0,1435.8L2019.0,1435.7L2021.0,1435.5L2023.0,1435.4L2025.0,1435.2L2027.0,1435.1L2029.0,1434.9L2031.0,1434.8L2033.0,1434.6L2035.0,1434.4L2037.0,1434.3L2039.0,1434.1L2041.0,1434.0L2043.0,1433.8L2045.0,1433.6L2047.0,1433.5L2049.0,1433.3L2051.0,1433.2L2053.0,1433.0L2055.0,1432.8" stroke="#0000ff" stroke-width="6.6"/>
<path d="M331.0,970.4L333.0,969.9L335.0,969.4L337.0,968.8L339.0,968.2L341.0,967.6L343.0,967.0L345.0,966.4L347.0,965.8L349.0,965.2L351.0,964.6L353.0,963.9L355.0,963.3L357.0,962.6L359.0,961.9L361.0,961.2L363.0,960.5L365.0,959.8L367.0,959.1L369.0,958.4L371.0,957.7L373.0,957.0L375.0,956.2L377.0,955.5L379.0,954.7L381.0,953.9L383.0,953.2L385.0,952.4L387.0,951.6L389.0,950.8L391.0,950.0L393.0,949.2L395.0,948.4L397.0,947.6L399.0,946.7L401.0,945.9L403.0,945.1L405.0,944.2L407.0,943.4L409.0,942.5L411.0,941.6L413.0,940.8L415.0,939.9L417.0,939.0L419.0,938.1L421.0,937.3L423.0,936.4L425.0,935.5L427.0,934.6L429.0,933.7L431.0,932.8L433.0,931.8L435.0,930.9L437.0,930.0L439.0,929.1L441.0,928.2L443.0,927.2L445.0,926.3L447.0,925.4L449.0,924.4L451.0,923.5L453.0,922.6L455.0,921.6L457.0,920.7L459.0,919.7L461.0,918.8L463.0,917.8L465.0,916.9L467.0,915.9L469.0,915.0L471.0,914.0L473.0,913.1L475.0,912.1L477.0,911.2L479.0,910.2L481.0,909.2L483.0,908.3L485.0,907.3L487.0,906.4L489.0,905.4L491.0,904.5L493.0,903.5L495.0,902.6L497.0,901.7L499.0,900.7L501.0,899.8L503.0,898.8L505.0,897.9L507.0,897.0L509.0,896.1L511.0,895.2L513.0,894.3L515.0,893.4L517.0,892.5L519.0,891.6L521.0,890.7L523.0,889.9L525.0,889.0L527.0,888.1L529.0,887.3L531.0,886.5L533.0,885.6L535.0,884.8L537.0,884.0L539.0,883.2L541.0,882.5L543.0,881.7L545.0,880.9L547.0,880.2L549.0,879.5L551.0,878.7L553.0,878.0L555.0,877.3L557.0,876.7L559.0,876.0L561.0,875.4L563.0,874.7L565.0,874.1L567.0,873.5L569.0,872.9L571.0,872.4L573.0,871.8L575.0,871.3L577.0,870.8L579.0,870.3L581.0,869.8L583.0,869.3L585.0,868.9L587.0,868.5L589.0,868.0L591.0,867.7L593.0,867.3L595.0,866.9L597.0,866.6L599.0,866.2L601.0,865.9L603.0,865.6L605.0,865.4L607.0,865.1L609.0,864.8L611.0,864.6L613.0,864.4L615.0,864.2L617.0,864.0L619.0,863.8L621.0,863.7L623.0,863.6L625.0,863.4L627.0,863.3L629.0,863.2L631.0,863.2L633.0,863.1L635.0,863.1L637.0,863.0L639.0,863.0L641.0,863.0L643.0,863.0L645.0,863.1L647.0,863.1L649.0,863.2L651.0,863.2L653.0,863.3L655.0,863.4L657.0,863.5L659.0,863.7L661.0,863.8L663.0,864.0L665.0,864.2L667.0,864.3L669.0,864.5L671.0,864.8L673.0,865.0L675.0,865.2L677.0,865.5L679.0,865.8L681.0,866.0L683.0,866.3L685.0,866.6L687.0,867.0L689.0,867.3L691.0,867.7L693.0,868.0L695.0,868.4L697.0,868.8L699.0,869.2L701.0,869.6L703.0,870.0L705.0,870.5L707.0,870.9L709.0,871.4L711.0,871.8L713.0,872.3L715.0,872.8L717.0,873.3L719.0,873.9L721.0,874.4L723.0,874.9L725.0,875.5L727.0,876.1L729.0,876.7L731.0,877.3L733.0,877.9L735.0,878.5L737.0,879.1L739.0,879.7L741.0,880.4L743.0,881.1L745.0,881.7L747.0,882.4L749.0,883.1L751.0,883.8L753.0,884.5L755.0,885.3L757.0,886.0L759.0,886.7L761.0,887.5L763.0,888.3L765.0,889.0L767.0,889.8L769.0,890.6L771.0,891.4L773.0,892.3L775.0,893.1L777.0,893.9L779.0,894.8L781.0,895.6L783.0,896.5L785.0,897.4L787.0,898.3L789.0,899.2L791.0,900.1L793.0,901.0L795.0,901.9L797.0,902.9L799.0,903.8L801.0,904.7L803.0,905.7L805.0,906.7L807.0,907.7L809.0,908.7L811.0,909.7L813.0,910.7L815.0,911.7L817.0,912.7L819.0,913.7L821.0,914.8L823.0,915.8L825.0,916.9L827.0,918.0L829.0,919.0L831.0,920.1L833.0,921.2L835.0,922.3L837.0,923.5L839.0,924.6L841.0,925.7L843.0,926.8L845.0,928.0L847.0,929.2L849.0,930.3L851.0,931.5L853.0,932.7L855.0,933.9L857.0,935.1L859.0,936.3L861.0,937.5L863.0,938.7L865.0,939.9L867.0,941.2L869.0,942.4L871.0,943.7L873.0,944.9L875.0,946.2L877.0,947.5L879.0,948.8L881.0,950.1L883.0,951.4L885.0,952.7L887.0,954.0L889.0,955.3L891.0,956.7L893.0,958.0L895.0,959.4L897.0,960.7L899.0,962.1L901.0,963.4L903.0,964.8L905.0,966.2L907.0,967.6L909.0,969.0L911.0,970.4L913.0,971.8L915.0,973.2L917.0,974.7L919.0,976.1L921.0,977.6L923.0,979.0L925.0,980.5L927.0,981.9L929.0,983.4L931.0,984.9L933.0,986.4L935.0,987.9L937.0,989.4L939.0,990.9L941.0,992.4L943.0,993.9L945.0,995.4L947.0,996.9L949.0,998.5L951.0,1000.0L953.0,1001.6L955.0,1003.1L957.0,1004.7L959.0,1006.3L961.0,1007.9L963.0,1009.4L965.0,1011.0L967.0,1012.6L969.0,1014.2L971.0,1015.8L973.0,1017.5L975.0,1019.1L977.0,1020.7L979.0,1022.3L981.0,1024.0L983.0,1025.6L985.0,1027.3L987.0,1028.9L989.0,1030.6L991.0,1032.3L993.0,1033.9L995.0,1035.6L997.0,1037.3L999.0,1039.0L1001.0,1040.7L1003.0,1042.4L1005.0,1044.1L1007.0,1045.8L1009.0,1047.5L1011.0,1049.2L1013.0,1050.9L1015.0,1052.6L1017.0,1054.3L1019.0,1056.1L1021.0,1057.8L1023.0,1059.5L1025.0,1061.3L1027.0,1063.0L1029.0,1064.8L1031.0,1066.5L1033.0,1068.2L1035.0,1070.0L1037.0,1071.7L1039.0,1073.5L1041.0,1075.3L1043.0,1077.0L1045.0,1078.8L1047.0,1080.5L1049.0,1082.3L1051.0,1084.1L1053.0,1085.8L1055.0,1087.6L1057.0,1089.3L1059.0,1091.1L1061.0,1092.9L1063.0,1094.6L1065.0,1096.4L1067.0,1098.2L1069.0,1099.9L1071.0,1101.7L1073.0,1103.5L1075.0,1105.3L1077.0,1107.0L1079.0,1108.8L1081.0,1110.5L1083.0,1112.3L1085.0,1114.1L1087.0,1115.8L1089.0,1117.6L1091.0,1119.4L1093.0,1121.1L1095.0,1122.9L1097.0,1124.6L1099.0,1126.4L1101.0,1128.1L1103.0,1129.9L1105.0,1131.6L1107.0,1133.4L1109.0,1135.1L1111.0,1136.9L1113.0,1138.6L1115.0,1140.4L1117.0,1142.1L1119.0,1143.8L1121.0,1145.6L1123.0,1147.3L1125.0,1149.0L1127.0,1150.8L1129.0,1152.5L1131.0,1154.2L1133.0,1155.9L1135.0,1157.6L1137.0,1159.3L1139.0,1161.0L1141.0,1162.7L1143.0,1164.4L1145.0,1166.1L1147.0,1167.8L1149.0,1169.5L1151.0,1171.2L1153.0,1172.9L1155.0,1174.5L1157.0,1176.2L1159.0,1177.9L1161.0,1179.5L1163.0,1181.2L1165.0,1182.9L1167.0,1184.5L1169.0,1186.2L1171.0,1187.8L1173.0,1189.5L1175.0,1191.1L1177.0,1192.7L1179.0,1194.4L1181.0,1196.0L1183.0,1197.6L1185.0,1199.2L1187.0,1200.8L1189.0,1202.5L1191.0,1204.1L1193.0,1205.7L1195.0,1207.3L1197.0,1208.8L1199.0,1210.4L1201.0,1212.0L1203.0,1213.6L1205.0,1215.2L1207.0,1216.7L1209.0,1218.3L1211.0,1219.9L1213.0,1221.4L1215.0,1223.0L1217.0,1224.5L1219.0,1226.1L1221.0,1227.6L1223.0,1229.1L1225.0,1230.7L1227.0,1232.2L1229.0,1233.7L1231.0,1235.2L1233.0,1236.7L1235.0,1238.2L1237.0,1239.7L1239.0,1241.2L1241.0,1242.7L1243.0,1244.2L1245.0,1245.7L1247.0,1247.2L1249.0,1248.6L1251.0,1250.1L1253.0,1251.5L1255.0,1253.0L1257.0,1254.4L1259.0,1255.9L1261.0,1257.3L1263.0,1258.7L1265.0,1260.1L1267.0,1261.6L1269.0,1263.0L1271.0,1264.4L1273.0,1265.8L1275.0,1267.1L1277.0,1268.5L1279.0,1269.9L1281.0,1271.3L1283.0,1272.6L1285.0,1274.0L1287.0,1275.3L1289.0,1276.6L1291.0,1278.0L1293.0,1279.3L1295.0,1280.6L1297.0,1281.9L1299.0,1283.2L1301.0,1284.5L1303.0,1285.8L1305.0,1287.0L1307.0,1288.3L1309.0,1289.6L1311.0,1290.8L1313.0,1292.0L1315.0,1293.3L1317.0,1294.5L1319.0,1295.7L1321.0,1296.9L1323.0,1298.1L1325.0,1299.3L1327.0,1300.4L1329.0,1301.6L1331.0,1302.8L1333.0,1303.9L1335.0,1305.0L1337.0,1306.2L1339.0,1307.3L1341.0,1308.4L1343.0,1309.5L1345.0,1310.6L1347.0,1311.7L1349.0,1312.7L1351.0,1313.8L1353.0,1314.9L1355.0,1315.9L1357.0,1317.0L1359.0,1318.0L1361.0,1319.0L1363.0,1320.0L1365.0,1321.0L1367.0,1322.1L1369.0,1323.0L1371.0,1324.0L1373.0,1325.0L1375.0,1326.0L1377.0,1326.9L1379.0,1327.9L1381.0,1328.8L1383.0,1329.8L1385.0,1330.7L1387.0,1331.6L1389.0,1332.6L1391.0,1333.5L1393.0,1334.4L1395.0,1335.3L1397.0,1336.2L1399.0,1337.0L1401.0,1337.9L1403.0,1338.8L1405.0,1339.7L1407.0,1340.5L1409.0,1341.4L1411.0,1342.2L1413.0,1343.0L1415.0,1343.9L1417.0,1344.7L1419.0,1345.5L1421.0,1346.3L1423.0,1347.1L1425.0,1347.9L1427.0,1348.7L1429.0,1349.5L1431.0,1350.3L1433.0,1351.0L1435.0,1351.8L1437.0,1352.6L1439.0,1353.3L1441.0,1354.1L1443.0,1354.8L1445.0,1355.5L1447.0,1356.3L1449.0,1357.0L1451.0,1357.7L1453.0,1358.4L1455.0,1359.1L1457.0,1359.8L1459.0,1360.5L1461.0,1361.2L1463.0,1361.9L1465.0,1362.6L1467.0,1363.3L1469.0,1364.0L1471.0,1364.6L1473.0,1365.3L1475.0,1365.9L1477.0,1366.6L1479.0,1367.2L1481.0,1367.9L1483.0,1368.5L1485.0,1369.2L1487.0,1369.8L1489.0,1370.4L1491.0,1371.0L1493.0,1371.7L1495.0,1372.3L1497.0,1372.9L1499.0,1373.5L1501.0,1374.1L1503.0,1374.7L1505.0,1375.3L1507.0,1375.9L1509.0,1376.4L1511.0,1377.0L1513.0,1377.6L1515.0,1378.2L1517.0,1378.7L1519.0,1379.3L1521.0,1379.9L1523.0,1380.4L1525.0,1381.0L1527.0,1381.5L1529.0,1382.1L1531.0,1382.6L1533.0,1383.1L1535.0,1383.7L1537.0,1384.2L1539.0,1384.7L1541.0,1385.3L1543.0,1385.8L1545.0,1386.3L1547.0,1386.8L1549.0,1387.3L1551.0,1387.8L1553.0,1388.3L1555.0,1388.8L1557.0,1389.3L1559.0,1389.8L1561.0,1390.3L1563.0,1390.8L1565.0,1391.3L1567.0,1391.8L1569.0,1392.2L1571.0,1392.7L1573.0,1393.2L1575.0,1393.6L1577.0,1394.1L1579.0,1394.6L1581.0,1395.0L1583.0,1395.5L1585.0,1395.9L1587.0,1396.4L1589.0,1396.8L1591.0,1397.2L1593.0,1397.7L1595.0,1398.1L1597.0,1398.5L1599.0,1399.0L1601.0,1399.4L1603.0,1399.8L1605.0,1400.2L1607.0,1400.6L1609.0,1401.1L1611.0,1401.5L1613.0,1401.9L1615.0,1402.3L1617.0,1402.7L1619.0,1403.1L1621.0,1403.4L1623.0,1403.8L1625.0,1404.2L1627.0,1404.6L1629.0,1405.0L1631.0,1405.4L1633.0,1405.7L1635.0,1406.1L1637.0,1406.5L1639.0,1406.8L1641.0,1407.2L1643.0,1407.6L1645.0,1407.9L1647.0,1408.3L1649.0,1408.6L1651.0,1409.0L1653.0,1409.3L1655.0,1409.7L1657.0,1410.0L1659.0,1410.4L1661.0,1410.7L1663.0,1411.0L1665.0,1411.4L1667.0,1411.7L1669.0,1412.0L1671.0,1412.3L1673.0,1412.6L1675.0,1413.0L1677.0,1413.3L1679.0,1413.6L1681.0,1413.9L1683.0,1414.2L1685.0,1414.5L1687.0,1414.8L1689.0,1415.1L1691.0,1415.4L1693.0,1415.7L1695.0,1416.0L1697.0,1416.3L1699.0,1416.6L1701.0,1416.9L1703.0,1417.1L1705.0,1417.4L1707.0,1417.7L1709.0,1418.0L1711.0,1418.2L1713.0,1418.5L1715.0,1418.8L1717.0,1419.1L1719.0,1419.3L1721.0,1419.6L1723.0,1419.8L1725.0,1420.1L1727.0,1420.4L1729.0,1420.6L1731.0,1420.9L1733.0,1421.1L1735.0,1421.4L1737.0,1421.6L1739.0,1421.8L1741.0,1422.1L1743.0,1422.3L1745.0,1422.6L1747.0,1422.8L1749.0,1423.0L1751.0,1423.3L1753.0,1423.5L1755.0,1423.7L1757.0,1423.9L1759.0,1424.2L1761.0,1424.4L1763.0,1424.6L1765.0,1424.8L1767.0,1425.0L1769.0,1425.2L1771.0,1425.5L1773.0,1425.7L1775.0,1425.9L1777.0,1426.1L1779.0,1426.3L1781.0,1426.5L1783.0,1426.7L1785.0,1426.9L1787.0,1427.1L1789.0,1427.3L1791.0,1427.5L1793.0,1427.7L1795.0,1427.9L1797.0,1428.0L1799.0,1428.2L1801.0,1428.4L1803.0,1428.6L1805.0,1428.8L1807.0,1429.0L1809.0,1429.1L1811.0,1429.3L1813.0,1429.5L1815.0,1429.7L1817.0,1429.8L1819.0,1430.0L1821.0,1430.2L1823.0,1430.4L1825.0,1430.5L1827.0,1430.7L1829.0,1430.9L1831.0,1431.0L1833.0,1431.2L1835.0,1431.3L1837.0,1431.5L1839.0,1431.7L1841.0,1431.8L1843.0,1432.0L1845.0,1432.1L1847.0,1432.3L1849.0,1432.4L1851.0,1432.6L1853.0,1432.7L1855.0,1432.9L1857.0,1433.0L1859.0,1433.2L1861.0,1433.3L1863.0,1433.5L1865.0,1433.6L1867.0,1433.7L1869.0,1433.9L1871.0,1434.0L1873.0,1434.2L1875.0,1434.3L1877.0,1434.4L1879.0,1434.6L1881.0,1434.7L1883.0,1434.8L1885.0,1435.0L1887.0,1435.1L1889.0,1435.2L1891.0,1435.4L1893.0,1435.5L1895.0,1435.6L1897.0,1435.7L1899.0,1435.9L1901.0,1436.0L1903.0,1436.1L1905.0,1436.2L1907.0,1436.4L1909.0,1436.5L1911.0,1436.6L1913.0,1436.7L1915.0,1436.8L1917.0,1437.0L1919.0,1437.1L1921.0,1437.2L1923.0,1437.3L1925.0,1437.4L1927.0,1437.5L1929.0,1437.7L1931.0,1437.8L1933.0,1437.9L1935.0,1438.0L1937.0,1438.1L1939.0,1438.2L1941.0,1438.3L1943.0,1438.4L1945.0,1438.6L1947.0,1438.7L1949.0,1438.8L1951.0,1438.9L1953.0,1439.0L1955.0,1439.1L1957.0,1439.2L1959.0,1439.3L1961.0,1439.4L1963.0,1439.5L1965.0,1439.6L1967.0,1439.7L1969.0,1439.9L1971.0,1440.0L1973.0,1440.1L1975.0,1440.2L1977.0,1440.3L1979.0,1440.4L1981.0,1440.5L1983.0,1440.6L1985.0,1440.7L1987.0,1440.8L1989.0,1440.9L1991.0,1441.0L1993.0,1441.1L1995.0,1441.2L1997.0,1441.3L1999.0,1441.4L2001.0,1441.5L2003.0,1441.6L2005.0,1441.7L2007.0,1441.8L2009.0,1441.9L2011.0,1442.0L2013.0,1442.1L2015.0,1442.2L2017.0,1442.3L2019.0,1442.4L2021.0,1442.5L2023.0,1442.6L2025.0,1442.8L2027.0,1442.9L2029.0,1443.0L2031.0,1443.1L2033.0,1443.2L2035.0,1443.3L2037.0,1443.4L2039.0,1443.5L2041.0,1443.6L2043.0,1443.7L2045.0,1443.8L2047.0,1443.9L2049.0,1444.0L2051.0,1444.1L2053.0,1444.2L2055.0,1444.3" stroke="#00dd00" stroke-width="6.4"/>
<path d="M331.0,1053.0L333.0,1049.8L335.0,1046.6L337.0,1043.3L339.0,1040.0L341.0,1036.7L343.0,1033.3L345.0,1029.9L347.0,1026.4L349.0,1022.9L351.0,1019.4L353.0,1015.8L355.0,1012.2L357.0,1008.6L359.0,1004.9L361.0,1001.1L363.0,997.4L365.0,993.6L367.0,989.8L369.0,985.9L371.0,982.0L373.0,978.1L375.0,974.1L377.0,970.1L379.0,966.0L381.0,962.0L383.0,957.9L385.0,953.7L387.0,949.5L389.0,945.3L391.0,941.1L393.0,936.8L395.0,932.5L397.0,928.2L399.0,923.8L401.0,919.4L403.0,915.0L405.0,910.5L407.0,906.0L409.0,901.5L411.0,896.9L413.0,892.3L415.0,887.7L417.0,883.1L419.0,878.4L421.0,873.7L423.0,869.0L425.0,864.2L427.0,859.4L429.0,854.6L431.0,849.8L433.0,844.9L435.0,840.0L437.0,835.1L439.0,830.2L441.0,825.2L443.0,820.2L445.0,815.2L447.0,810.1L449.0,805.1L451.0,800.0L453.0,794.8L455.0,789.7L457.0,784.5L459.0,779.3L461.0,774.1L463.0,768.9L465.0,763.6L467.0,758.3L469.0,753.0L471.0,747.7L473.0,742.3L475.0,737.0L477.0,731.6L479.0,726.2L481.0,720.7L483.0,715.3L485.0,709.8L487.0,704.3L489.0,698.8L491.0,693.3L493.0,687.7L495.0,682.2L497.0,676.6L499.0,671.0L501.0,665.4L503.0,659.7L505.0,654.1L507.0,648.4L509.0,642.7L511.0,637.0L513.0,631.3L515.0,625.5L517.0,619.8L519.0,614.0L521.0,608.2L523.0,602.4L525.0,596.6L527.0,590.8L529.0,585.0L531.0,579.2L533.0,573.3L535.0,567.5L537.0,561.7L539.0,555.8L541.0,550.0L543.0,544.2L545.0,538.4L547.0,532.5L549.0,526.7L551.0,520.9L553.0,515.2L555.0,509.4L557.0,503.6L559.0,497.9L561.0,492.2L563.0,486.5L565.0,480.9L567.0,475.2L569.0,469.6L571.0,464.0L573.0,458.5L575.0,452.9L577.0,447.4L579.0,442.0L581.0,436.6L583.0,431.2L585.0,425.9L587.0,420.6L589.0,415.3L591.0,410.1L593.0,405.0L595.0,399.8L597.0,394.8L599.0,389.8L601.0,384.8L603.0,379.9L605.0,375.1L607.0,370.3L609.0,365.6L611.0,360.9L613.0,356.4L615.0,351.8L617.0,347.4L619.0,343.0L621.0,338.7L623.0,334.4L625.0,330.3L627.0,326.2L629.0,322.2L631.0,318.3L633.0,314.4L635.0,310.6L637.0,307.0L639.0,303.4L641.0,299.9L643.0,296.5L645.0,293.1L647.0,289.9L649.0,286.8L651.0,283.7L653.0,280.8L655.0,277.9L657.0,275.1L659.0,272.4L661.0,269.8L663.0,267.3L665.0,264.9L667.0,262.5L669.0,260.2L671.0,258.0L673.0,255.9L675.0,253.8L677.0,251.9L679.0,250.0L681.0,248.1L683.0,246.4L685.0,244.7L687.0,243.1L689.0,241.5L691.0,240.0L693.0,238.6L695.0,237.3L697.0,236.0L699.0,234.7L701.0,233.6L703.0,232.4L705.0,231.4L707.0,230.4L709.0,229.4L711.0,228.5L713.0,227.7L715.0,226.9L717.0,226.2L719.0,225.5L721.0,224.8L723.0,224.2L725.0,223.7L727.0,223.2L729.0,222.7L731.0,222.3L733.0,221.9L735.0,221.6L737.0,221.3L739.0,221.0L741.0,220.8L743.0,220.6L745.0,220.4L747.0,220.3L749.0,220.2L751.0,220.1L753.0,220.0L755.0,220.0L757.0,220.0L759.0,220.1L761.0,220.2L763.0,220.3L765.0,220.5L767.0,220.6L769.0,220.9L771.0,221.1L773.0,221.4L775.0,221.7L777.0,222.0L779.0,222.4L781.0,222.8L783.0,223.3L785.0,223.8L787.0,224.3L789.0,224.8L791.0,225.4L793.0,226.0L795.0,226.7L797.0,227.4L799.0,228.1L801.0,228.8L803.0,229.6L805.0,230.4L807.0,231.3L809.0,232.2L811.0,233.1L813.0,234.1L815.0,235.1L817.0,236.1L819.0,237.2L821.0,238.3L823.0,239.4L825.0,240.6L827.0,241.8L829.0,243.1L831.0,244.3L833.0,245.7L835.0,247.0L837.0,248.4L839.0,249.8L841.0,251.3L843.0,252.8L845.0,254.3L847.0,255.9L849.0,257.5L851.0,259.2L853.0,260.9L855.0,262.6L857.0,264.4L859.0,266.2L861.0,268.0L863.0,269.9L865.0,271.8L867.0,273.7L869.0,275.7L871.0,277.8L873.0,279.8L875.0,281.9L877.0,284.1L879.0,286.3L881.0,288.5L883.0,290.7L885.0,293.0L887.0,295.4L889.0,297.7L891.0,300.1L893.0,302.6L895.0,305.0L897.0,307.5L899.0,310.1L901.0,312.6L903.0,315.2L905.0,317.8L907.0,320.5L909.0,323.2L911.0,325.9L913.0,328.6L915.0,331.4L917.0,334.2L919.0,337.0L921.0,339.9L923.0,342.8L925.0,345.7L927.0,348.6L929.0,351.6L931.0,354.6L933.0,357.6L935.0,360.6L937.0,363.7L939.0,366.8L941.0,369.9L943.0,373.0L945.0,376.1L947.0,379.3L949.0,382.5L951.0,385.7L953.0,388.9L955.0,392.2L957.0,395.4L959.0,398.7L961.0,402.0L963.0,405.3L965.0,408.6L967.0,412.0L969.0,415.3L971.0,418.7L973.0,422.1L975.0,425.5L977.0,428.9L979.0,432.3L981.0,435.7L983.0,439.2L985.0,442.6L987.0,446.0L989.0,449.5L991.0,452.9L993.0,456.4L995.0,459.8L997.0,463.3L999.0,466.7L1001.0,470.2L1003.0,473.6L1005.0,477.1L1007.0,480.5L1009.0,483.9L1011.0,487.4L1013.0,490.8L1015.0,494.2L1017.0,497.7L1019.0,501.1L1021.0,504.5L1023.0,508.0L1025.0,511.4L1027.0,514.9L1029.0,518.3L1031.0,521.8L1033.0,525.2L1035.0,528.7L1037.0,532.1L1039.0,535.6L1041.0,539.1L1043.0,542.6L1045.0,546.1L1047.0,549.6L1049.0,553.1L1051.0,556.6L1053.0,560.1L1055.0,563.7L1057.0,567.3L1059.0,570.8L1061.0,574.5L1063.0,578.1L1065.0,581.7L1067.0,585.4L1069.0,589.1L1071.0,592.9L1073.0,596.6L1075.0,600.4L1077.0,604.2L1079.0,608.1L1081.0,612.0L1083.0,615.9L1085.0,619.9L1087.0,623.9L1089.0,628.0L1091.0,632.1L1093.0,636.2L1095.0,640.4L1097.0,644.6L1099.0,648.8L1101.0,653.0L1103.0,657.2L1105.0,661.5L1107.0,665.7L1109.0,669.9L1111.0,674.2L1113.0,678.4L1115.0,682.6L1117.0,686.8L1119.0,691.0L1121.0,695.2L1123.0,699.3L1125.0,703.4L1127.0,707.5L1129.0,711.5L1131.0,715.5L1133.0,719.5L1135.0,723.4L1137.0,727.2L1139.0,731.1L1141.0,734.9L1143.0,738.6L1145.0,742.4L1147.0,746.1L1149.0,749.7L1151.0,753.4L1153.0,757.0L1155.0,760.5L1157.0,764.1L1159.0,767.6L1161.0,771.1L1163.0,774.6L1165.0,778.1L1167.0,781.5L1169.0,785.0L1171.0,788.4L1173.0,791.8L1175.0,795.1L1177.0,798.5L1179.0,801.9L1181.0,805.2L1183.0,808.5L1185.0,811.8L1187.0,815.1L1189.0,818.5L1191.0,821.8L1193.0,825.0L1195.0,828.3L1197.0,831.6L1199.0,834.9L1201.0,838.2L1203.0,841.5L1205.0,844.8L1207.0,848.1L1209.0,851.4L1211.0,854.7L1213.0,858.0L1215.0,861.3L1217.0,864.7L1219.0,868.0L1221.0,871.4L1223.0,874.7L1225.0,878.1L1227.0,881.5L1229.0,884.9L1231.0,888.4L1233.0,891.8L1235.0,895.3L1237.0,898.8L1239.0,902.3L1241.0,905.9L1243.0,909.4L1245.0,913.0L1247.0,916.6L1249.0,920.3L1251.0,923.9L1253.0,927.6L1255.0,931.3L1257.0,935.0L1259.0,938.7L1261.0,942.5L1263.0,946.2L1265.0,950.0L1267.0,953.7L1269.0,957.4L1271.0,961.2L1273.0,964.9L1275.0,968.7L1277.0,972.4L1279.0,976.1L1281.0,979.8L1283.0,983.5L1285.0,987.2L1287.0,990.8L1289.0,994.5L1291.0,998.1L1293.0,1001.6L1295.0,1005.2L1297.0,1008.7L1299.0,1012.2L1301.0,1015.7L1303.0,1019.1L1305.0,1022.6L1307.0,1026.0L1309.0,1029.4L1311.0,1032.7L1313.0,1036.1L1315.0,1039.4L1317.0,1042.7L1319.0,1046.0L1321.0,1049.2L1323.0,1052.5L1325.0,1055.7L1327.0,1058.9L1329.0,1062.1L1331.0,1065.3L1333.0,1068.4L1335.0,1071.6L1337.0,1074.7L1339.0,1077.8L1341.0,1080.9L1343.0,1084.0L1345.0,1087.1L1347.0,1090.1L1349.0,1093.1L1351.0,1096.1L1353.0,1099.1L1355.0,1102.1L1357.0,1105.0L1359.0,1107.9L1361.0,1110.7L1363.0,1113.6L1365.0,1116.3L1367.0,1119.1L1369.0,1121.8L1371.0,1124.5L1373.0,1127.2L1375.0,1129.8L1377.0,1132.4L1379.0,1134.9L1381.0,1137.4L1383.0,1139.8L1385.0,1142.2L1387.0,1144.6L1389.0,1146.9L1391.0,1149.2L1393.0,1151.5L1395.0,1153.7L1397.0,1155.9L1399.0,1158.0L1401.0,1160.2L1403.0,1162.3L1405.0,1164.3L1407.0,1166.4L1409.0,1168.4L1411.0,1170.4L1413.0,1172.3L1415.0,1174.3L1417.0,1176.2L1419.0,1178.1L1421.0,1179.9L1423.0,1181.8L1425.0,1183.6L1427.0,1185.5L1429.0,1187.3L1431.0,1189.0L1433.0,1190.8L1435.0,1192.6L1437.0,1194.3L1439.0,1196.1L1441.0,1197.8L1443.0,1199.5L1445.0,1201.2L1447.0,1202.9L1449.0,1204.6L1451.0,1206.3L1453.0,1208.0L1455.0,1209.7L1457.0,1211.3L1459.0,1213.0L1461.0,1214.6L1463.0,1216.3L1465.0,1217.9L1467.0,1219.5L1469.0,1221.1L1471.0,1222.7L1473.0,1224.3L1475.0,1225.9L1477.0,1227.5L1479.0,1229.0L1481.0,1230.6L1483.0,1232.1L1485.0,1233.7L1487.0,1235.2L1489.0,1236.7L1491.0,1238.2L1493.0,1239.7L1495.0,1241.2L1497.0,1242.7L1499.0,1244.2L1501.0,1245.7L1503.0,1247.1L1505.0,1248.6L1507.0,1250.0L1509.0,1251.5L1511.0,1252.9L1513.0,1254.3L1515.0,1255.7L1517.0,1257.1L1519.0,1258.5L1521.0,1259.9L1523.0,1261.2L1525.0,1262.6L1527.0,1264.0L1529.0,1265.3L1531.0,1266.7L1533.0,1268.0L1535.0,1269.3L1537.0,1270.6L1539.0,1271.9L1541.0,1273.2L1543.0,1274.5L1545.0,1275.8L1547.0,1277.1L1549.0,1278.3L1551.0,1279.6L1553.0,1280.8L1555.0,1282.1L1557.0,1283.3L1559.0,1284.5L1561.0,1285.7L1563.0,1286.9L1565.0,1288.1L1567.0,1289.3L1569.0,1290.5L1571.0,1291.6L1573.0,1292.8L1575.0,1294.0L1577.0,1295.1L1579.0,1296.2L1581.0,1297.4L1583.0,1298.5L1585.0,1299.6L1587.0,1300.7L1589.0,1301.8L1591.0,1302.9L1593.0,1303.9L1595.0,1305.0L1597.0,1306.1L1599.0,1307.1L1601.0,1308.2L1603.0,1309.2L1605.0,1310.2L1607.0,1311.3L1609.0,1312.3L1611.0,1313.3L1613.0,1314.3L1615.0,1315.3L1617.0,1316.3L1619.0,1317.2L1621.0,1318.2L1623.0,1319.2L1625.0,1320.1L1627.0,1321.1L1629.0,1322.0L1631.0,1323.0L1633.0,1323.9L1635.0,1324.8L1637.0,1325.7L1639.0,1326.6L1641.0,1327.5L1643.0,1328.4L1645.0,1329.3L1647.0,1330.2L1649.0,1331.1L1651.0,1332.0L1653.0,1332.8L1655.0,1333.7L1657.0,1334.5L1659.0,1335.4L1661.0,1336.2L1663.0,1337.0L1665.0,1337.9L1667.0,1338.7L1669.0,1339.5L1671.0,1340.3L1673.0,1341.1L1675.0,1341.9L1677.0,1342.7L1679.0,1343.5L1681.0,1344.3L1683.0,1345.1L1685.0,1345.8L1687.0,1346.6L1689.0,1347.4L1691.0,1348.1L1693.0,1348.9L1695.0,1349.6L1697.0,1350.4L1699.0,1351.1L1701.0,1351.8L1703.0,1352.6L1705.0,1353.3L1707.0,1354.0L1709.0,1354.7L1711.0,1355.4L1713.0,1356.1L1715.0,1356.8L1717.0,1357.5L1719.0,1358.2L1721.0,1358.9L1723.0,1359.6L1725.0,1360.2L1727.0,1360.9L1729.0,1361.6L1731.0,1362.3L1733.0,1362.9L1735.0,1363.6L1737.0,1364.2L1739.0,1364.9L1741.0,1365.5L1743.0,1366.2L1745.0,1366.8L1747.0,1367.4L1749.0,1368.1L1751.0,1368.7L1753.0,1369.3L1755.0,1369.9L1757.0,1370.6L1759.0,1371.2L1761.0,1371.8L1763.0,1372.4L1765.0,1373.0L1767.0,1373.6L1769.0,1374.2L1771.0,1374.8L1773.0,1375.4L1775.0,1376.0L1777.0,1376.5L1779.0,1377.1L1781.0,1377.7L1783.0,1378.3L1785.0,1378.8L1787.0,1379.4L1789.0,1380.0L1791.0,1380.5L1793.0,1381.1L1795.0,1381.6L1797.0,1382.2L1799.0,1382.7L1801.0,1383.3L1803.0,1383.8L1805.0,1384.4L1807.0,1384.9L1809.0,1385.5L1811.0,1386.0L1813.0,1386.5L1815.0,1387.0L1817.0,1387.6L1819.0,1388.1L1821.0,1388.6L1823.0,1389.1L1825.0,1389.6L1827.0,1390.2L1829.0,1390.7L1831.0,1391.2L1833.0,1391.7L1835.0,1392.2L1837.0,1392.7L1839.0,1393.2L1841.0,1393.7L1843.0,1394.2L1845.0,1394.7L1847.0,1395.2L1849.0,1395.6L1851.0,1396.1L1853.0,1396.6L1855.0,1397.1L1857.0,1397.6L1859.0,1398.0L1861.0,1398.5L1863.0,1399.0L1865.0,1399.5L1867.0,1399.9L1869.0,1400.4L1871.0,1400.9L1873.0,1401.3L1875.0,1401.8L1877.0,1402.3L1879.0,1402.7L1881.0,1403.2L1883.0,1403.6L1885.0,1404.1L1887.0,1404.6L1889.0,1405.0L1891.0,1405.5L1893.0,1405.9L1895.0,1406.3L1897.0,1406.8L1899.0,1407.2L1901.0,1407.7L1903.0,1408.1L1905.0,1408.5L1907.0,1409.0L1909.0,1409.4L1911.0,1409.8L1913.0,1410.2L1915.0,1410.6L1917.0,1411.0L1919.0,1411.4L1921.0,1411.8L1923.0,1412.2L1925.0,1412.6L1927.0,1413.0L1929.0,1413.4L1931.0,1413.7L1933.0,1414.1L1935.0,1414.5L1937.0,1414.8L1939.0,1415.2L1941.0,1415.5L1943.0,1415.9L1945.0,1416.2L1947.0,1416.5L1949.0,1416.9L1951.0,1417.2L1953.0,1417.5L1955.0,1417.8L1957.0,1418.1L1959.0,1418.4L1961.0,1418.7L1963.0,1418.9L1965.0,1419.2L1967.0,1419.5L1969.0,1419.7L1971.0,1419.9L1973.0,1420.2L1975.0,1420.4L1977.0,1420.6L1979.0,1420.8L1981.0,1421.0L1983.0,1421.2L1985.0,1421.4L1987.0,1421.6L1989.0,1421.8L1991.0,1421.9L1993.0,1422.1L1995.0,1422.2L1997.0,1422.3L1999.0,1422.4L2001.0,1422.6L2003.0,1422.7L2005.0,1422.7L2007.0,1422.8L2009.0,1422.9L2011.0,1422.9L2013.0,1423.0L2015.0,1423.0L2017.0,1423.0L2019.0,1423.1L2021.0,1423.1L2023.0,1423.0L2025.0,1423.0L2027.0,1423.0L2029.0,1422.9L2031.0,1422.9L2033.0,1422.8L2035.0,1422.7L2037.0,1422.6L2039.0,1422.5L2041.0,1422.4L2043.0,1422.3L2045.0,1422.1L2047.0,1422.0L2049.0,1421.8L2051.0,1421.6L2053.0,1421.4L2055.0,1421.2" stroke="#f47b20" stroke-width="6.0"/>
</g>
<g fill="#000"><rect x="324.95" y="69.85" width="1737.50" height="11.00"/><rect x="324.95" y="1464.00" width="1737.50" height="11.00"/><rect x="324.95" y="69.85" width="9.30" height="1405.15"/><rect x="2053.15" y="69.85" width="9.30" height="1405.15"/><rect x="324.95" y="1469.50" width="9.30" height="13.20"/><rect x="516.97" y="1469.50" width="9.30" height="27.30"/><rect x="708.99" y="1469.50" width="9.30" height="13.20"/><rect x="901.02" y="1469.50" width="9.30" height="27.30"/><rect x="1093.04" y="1469.50" width="9.30" height="13.20"/><rect x="1285.06" y="1469.50" width="9.30" height="27.30"/><rect x="1477.08" y="1469.50" width="9.30" height="13.20"/><rect x="1669.11" y="1469.50" width="9.30" height="27.30"/><rect x="1861.13" y="1469.50" width="9.30" height="13.20"/><rect x="2053.15" y="1469.50" width="9.30" height="27.30"/><rect x="301.40" y="1464.00" width="28.20" height="11.00"/><rect x="315.70" y="1324.59" width="13.90" height="11.00"/><rect x="301.40" y="1185.17" width="28.20" height="11.00"/><rect x="315.70" y="1045.76" width="13.90" height="11.00"/><rect x="301.40" y="906.34" width="28.20" height="11.00"/><rect x="315.70" y="766.92" width="13.90" height="11.00"/><rect x="301.40" y="627.51" width="28.20" height="11.00"/><rect x="315.70" y="488.09" width="13.90" height="11.00"/><rect x="301.40" y="348.68" width="28.20" height="11.00"/><rect x="315.70" y="209.27" width="13.90" height="11.00"/><rect x="301.40" y="69.85" width="28.20" height="11.00"/></g>
<g font-family="'Liberation Serif','Times New Roman',serif" fill="#000">
<text transform="translate(465.71,1571.60) scale(0.9942,1)" font-size="74">550</text>
<text transform="translate(850.89,1571.60) scale(0.9837,1)" font-size="74">600</text>
<text transform="translate(1234.94,1571.60) scale(0.9837,1)" font-size="74">650</text>
<text transform="translate(1617.46,1571.60) scale(0.9978,1)" font-size="74">700</text>
<text transform="translate(2001.50,1571.60) scale(0.9978,1)" font-size="74">750</text>
<text transform="translate(248.72,1490.10) scale(0.9900,1)" font-size="70">0</text>
<text transform="translate(179.42,1211.27) scale(0.9900,1)" font-size="70">200</text>
<text transform="translate(179.73,932.44) scale(0.9870,1)" font-size="70">400</text>
<text transform="translate(178.35,653.61) scale(1.0005,1)" font-size="70">600</text>
<text transform="translate(179.83,374.78) scale(0.9860,1)" font-size="70">800</text>
<text transform="translate(148.53,95.95) scale(0.9626,1)" font-size="70">1000</text>
<text transform="translate(941.70,1690.20) scale(1.0145,1)" font-size="72">Wavelength (nm)</text>
<text transform="translate(106.00,1140.18) rotate(-90) scale(1.0073,1)" font-size="72">Fluorescence intensity (a.u.)</text>
</g>
<g stroke-width="6.8" stroke-linecap="round">
<line x1="1442.5" y1="870.6" x2="1604.5" y2="870.6" stroke="#00dd00"/>
<line x1="1442.5" y1="959.7" x2="1604.5" y2="959.7" stroke="#000"/>
<line x1="1442.5" y1="1048.6" x2="1604.5" y2="1048.6" stroke="#0000ff"/>
<line x1="1442.5" y1="1137.8" x2="1604.5" y2="1137.8" stroke="#f47b20"/>
</g>
<g font-family="'Liberation Serif','Times New Roman',serif" fill="#000">
<text transform="translate(1637.98,892.40) scale(0.9781,1)" font-size="63">AQ</text>
<text transform="translate(1637.00,984.40) scale(0.9923,1)" font-size="63">CMC&#8722;Na</text>
<text transform="translate(1637.18,1074.30) scale(1.0000,1)" font-size="63">CMC&#8722;GE</text>
<text transform="translate(1637.21,1156.50) scale(0.9874,1)" font-size="63">CMC&#8722;GE&#8722;AQ</text>
</g>
</svg></body></html>
